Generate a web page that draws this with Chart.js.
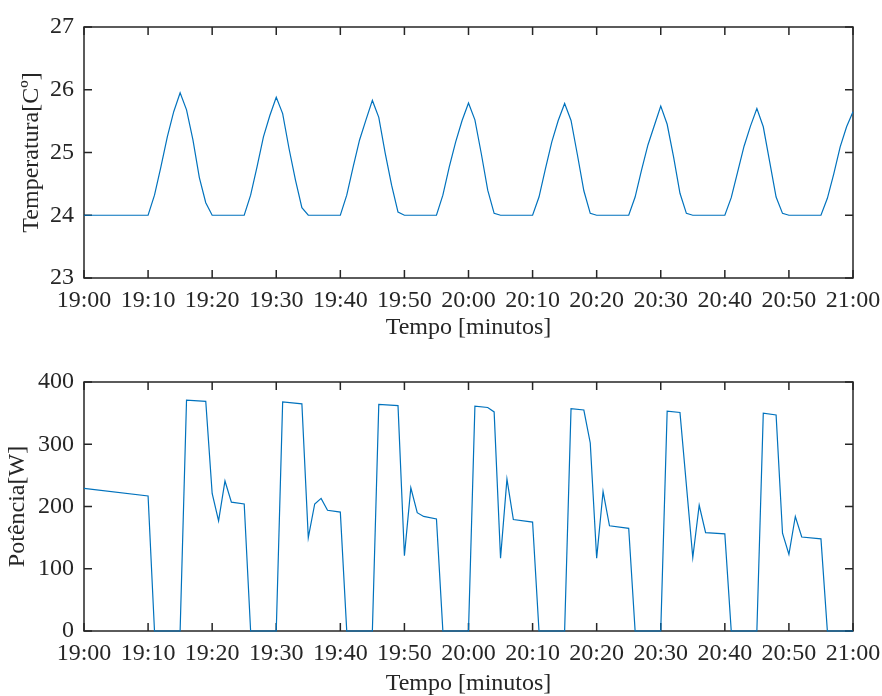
<!DOCTYPE html>
<html>
<head>
<meta charset="utf-8">
<script src="https://cdn.jsdelivr.net/npm/chart.js@4.4.1/dist/chart.umd.min.js"></script>
<style>
  html, body { margin: 0; padding: 0; background: #fff; overflow: hidden; }
  .panel { position: absolute; left: 0; width: 882px; }
  #top { top: 0; height: 345px; }
  #bottom { top: 345px; height: 355px; }
</style>
</head>
<body>
<div class="panel" id="top"><canvas id="tempChart" width="882" height="345"></canvas></div>
<div class="panel" id="bottom"><canvas id="powerChart" width="882" height="355"></canvas></div>
<script>
// x axis: minutes after 19:00
const timeTicks = [0, 10, 20, 30, 40, 50, 60, 70, 80, 90, 100, 110, 120];
const timeLabels = ['19:00', '19:10', '19:20', '19:30', '19:40', '19:50', '20:00',
  '20:10', '20:20', '20:30', '20:40', '20:50', '21:00'];

// Temperature
const tempMin = [0, 10, 11, 12, 13, 14, 15, 16, 17, 18, 19, 20,
  25, 26, 27, 28, 29, 30, 31, 32, 33, 34, 35,
  40, 41, 42, 43, 44, 45, 46, 47, 48, 49, 50,
  55, 56, 57, 58, 59, 60, 61, 62, 63, 64, 65,
  70, 71, 72, 73, 74, 75, 76, 77, 78, 79, 80,
  85, 86, 87, 88, 89, 90, 91, 92, 93, 94, 95,
  100, 101, 102, 103, 104, 105, 106, 107, 108, 109, 110,
  115, 116, 117, 118, 119, 120];
const tempC = [24, 24, 24.32, 24.77, 25.25, 25.65, 25.95, 25.68, 25.2, 24.6, 24.2, 24.0,
  24, 24.32, 24.77, 25.25, 25.59, 25.88, 25.62, 25.06, 24.56, 24.12, 24.0,
  24, 24.32, 24.77, 25.2, 25.52, 25.83, 25.56, 24.99, 24.48, 24.05, 24.0,
  24, 24.32, 24.77, 25.17, 25.51, 25.79, 25.52, 24.98, 24.4, 24.03, 24.0,
  24, 24.29, 24.74, 25.17, 25.51, 25.78, 25.51, 24.96, 24.39, 24.03, 24.0,
  24, 24.29, 24.72, 25.12, 25.43, 25.74, 25.45, 24.93, 24.35, 24.03, 24.0,
  24, 24.28, 24.69, 25.1, 25.42, 25.7, 25.41, 24.85, 24.29, 24.03, 24.0,
  24, 24.27, 24.66, 25.09, 25.41, 25.65];
const tempTicks = [23, 24, 25, 26, 27];

// Power
const powerMin = [0, 10, 11, 15, 16, 19, 20, 21, 22, 23, 25,
  26, 30, 31, 34, 35, 36, 37, 38, 40,
  41, 45, 46, 49, 50, 51, 52, 53, 55,
  56, 60, 61, 63, 64, 65, 66, 67, 70,
  71, 75, 76, 78, 79, 80, 81, 82, 85,
  86, 90, 91, 93, 95, 96, 97, 100,
  101, 105, 106, 108, 109, 110, 111, 112, 115,
  116, 120];
const powerW = [229, 217, 0, 0, 371, 369, 221, 177, 241, 207, 204,
  0, 0, 368, 365, 150, 204, 213, 194, 191,
  0, 0, 364, 362, 121, 230, 190, 184, 180,
  0, 0, 361, 359, 352, 117, 244, 179, 175,
  0, 0, 357, 355, 302, 117, 224, 169, 165,
  0, 0, 353, 351, 118, 202, 158, 156,
  0, 0, 350, 347, 157, 123, 184, 151, 148,
  0, 0];
const powerTicks = [0, 100, 200, 300, 400];

const FONT = 'Liberation Serif, Times New Roman, serif';
const AXIS_COLOR = '#262626';
const LINE_COLOR = '#0072BD';

// MATLAB style box with inward ticks on all sides
const matlabBox = {
  id: 'matlabBox',
  beforeDatasetsDraw(chart) {
    const { ctx, chartArea: a, scales: { x, y } } = chart;
    const len = 8;
    ctx.save();
    ctx.strokeStyle = AXIS_COLOR;
    ctx.lineWidth = 1.5;
    ctx.beginPath();
    x.ticks.forEach(t => {
      const px = x.getPixelForValue(t.value);
      ctx.moveTo(px, a.bottom); ctx.lineTo(px, a.bottom - len);
      ctx.moveTo(px, a.top); ctx.lineTo(px, a.top + len);
    });
    y.ticks.forEach(t => {
      const py = y.getPixelForValue(t.value);
      ctx.moveTo(a.left, py); ctx.lineTo(a.left + len, py);
      ctx.moveTo(a.right, py); ctx.lineTo(a.right - len, py);
    });
    ctx.stroke();
    ctx.strokeRect(a.left, a.top, a.right - a.left, a.bottom - a.top);
    ctx.restore();
  }
};

function makeChart(id, xs, ys, yTicks, yTitle, opts) {
  const points = xs.map((v, i) => ({ x: v, y: ys[i] }));
  return new Chart(document.getElementById(id), {
    type: 'line',
    data: {
      datasets: [{
        data: points,
        borderColor: LINE_COLOR,
        borderWidth: 1.2,
        pointRadius: 0,
        tension: 0,
        fill: false,
        clip: false
      }]
    },
    plugins: [matlabBox],
    options: {
      responsive: false,
      animation: false,
      events: [],
      layout: { padding: { top: opts.top, right: 29, left: 0, bottom: 0 } },
      plugins: { legend: { display: false }, tooltip: { enabled: false } },
      scales: {
        x: {
          type: 'linear',
          min: 0,
          max: 120,
          afterBuildTicks: s => { s.ticks = timeTicks.map(v => ({ value: v })); },
          afterFit: s => {
            s.height = opts.xHeight;
            s.paddingLeft = 0;
            s.paddingRight = 0;
          },
          grid: { display: false, drawTicks: false },
          border: { display: false },
          ticks: {
            padding: 8,
            maxRotation: 0,
            autoSkip: false,
            color: AXIS_COLOR,
            font: { family: FONT, size: 24 },
            callback: (v) => timeLabels[timeTicks.indexOf(v)]
          },
          title: {
            display: true,
            text: 'Tempo [minutos]',
            color: AXIS_COLOR,
            font: { family: FONT, size: 24 },
            padding: { top: 0, bottom: opts.xTitlePad }
          }
        },
        y: {
          type: 'linear',
          min: yTicks[0],
          max: yTicks[yTicks.length - 1],
          afterBuildTicks: s => { s.ticks = yTicks.map(v => ({ value: v })); },
          afterFit: s => {
            s.width = 84;
            s.paddingTop = 0;
            s.paddingBottom = 0;
          },
          grid: { display: false, drawTicks: false },
          border: { display: false },
          ticks: {
            padding: 10,
            color: AXIS_COLOR,
            font: { family: FONT, size: 24 }
          },
          title: {
            display: true,
            text: yTitle,
            color: AXIS_COLOR,
            font: { family: FONT, size: 24 },
            padding: { top: opts.yTitlePad, bottom: 0 }
          }
        }
      }
    }
  });
}

makeChart('tempChart', tempMin, tempC, tempTicks, 'Temperatura[Cº]',
  { top: 27, xHeight: 67, xTitlePad: 3, yTitlePad: 17 });
makeChart('powerChart', powerMin, powerW, powerTicks, 'Potência[W]',
  { top: 37, xHeight: 69, xTitlePad: 2, yTitlePad: 3 });
</script>
</body>
</html>
